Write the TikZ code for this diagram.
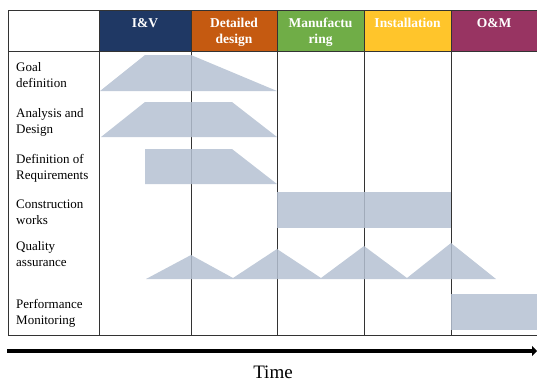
\documentclass[tikz,border=0pt]{standalone}
\usepackage{fontspec}
\setmainfont{Liberation Serif}
\usetikzlibrary{arrows.meta}
\definecolor{cIV}{HTML}{1F3864}
\definecolor{cDD}{HTML}{C55A11}
\definecolor{cMF}{HTML}{70AD47}
\definecolor{cIN}{HTML}{FFC52B}
\definecolor{cOM}{HTML}{983462}
\definecolor{barc}{RGB}{181,193,210}
\definecolor{gridc}{HTML}{333333}
\begin{document}
\begin{tikzpicture}[x=1pt,y=-1pt,
  hdr/.style={font=\fontsize{13.5}{15.5}\selectfont\bfseries, text=white, align=center, anchor=base, inner sep=0pt},
  lbl/.style={font=\fontsize{13}{15.5}\selectfont, align=left, anchor=base west, inner sep=0pt},
  barshape/.style={fill=barc, fill opacity=0.85, draw=none},
  gridline/.style={draw=gridc, line width=0.9pt}]
\useasboundingbox (0,0) rectangle (537,381);
% header fills
\fill[cIV] (99,10) rectangle (191,51);
\fill[cDD] (191,10) rectangle (277,51);
\fill[cMF] (277,10) rectangle (364,51);
\fill[cIN] (364,10) rectangle (451,51);
\fill[cOM] (451,10) rectangle (537,51);
% grid
\draw[gridline] (537,10) -- (8,10) -- (8,335) -- (537,335);
\draw[gridline] (8,51) -- (537,51);
\foreach \x in {99,191,277,364,451} \draw[gridline] (\x,10) -- (\x,335);
% header texts (base = last line)
\node[hdr] (hIV) at (145,27) {I\&V};
\node[hdr] (hDD) at (234,43) {Detailed\\design};
\node[hdr] (hMF) at (320.5,43) {Manufactu\\ring};
\node[hdr] (hIN) at (407.5,27) {Installation};
\node[hdr] (hOM) at (494,27) {O\&M};
% row labels (base = last line)
\node[lbl] (rGoal) at (16,87) {Goal\\definition};
\node[lbl] (rAna) at (16,133) {Analysis and\\Design};
\node[lbl] (rReq) at (16,179) {Definition of\\Requirements};
\node[lbl] (rCon) at (16,224) {Construction\\works};
\node[lbl] (rQua) at (16,266) {Quality\\assurance};
\node[lbl] (rPer) at (16,324) {Performance\\Monitoring};
% bars
\fill[barshape] (100,91) -- (145,55) -- (191,55) -- (277,91) -- cycle;
\fill[barshape] (101,137) -- (145,102) -- (232,102) -- (277,137) -- cycle;
\fill[barshape] (145,184) -- (145,149) -- (232,149) -- (277,184) -- cycle;
\fill[barshape] (277,192) rectangle (451,228);
\fill[barshape] (146,279) -- (191,255) -- (233,278) -- (277,249) -- (321,278) -- (364,246) -- (407,278) -- (451,243) -- (496,279) -- cycle;
\fill[barshape] (451,294) rectangle (537,330);
% time arrow
\coordinate (tl) at (7,351);
\coordinate (tr) at (537,351);
\draw[line width=4pt, -{Triangle[length=5pt,width=10pt]}] (tl) -- (tr);
\node[font=\fontsize{19}{22}\selectfont, anchor=base, inner sep=0pt] (time) at (273,378) {Time};
\end{tikzpicture}
\end{document}
